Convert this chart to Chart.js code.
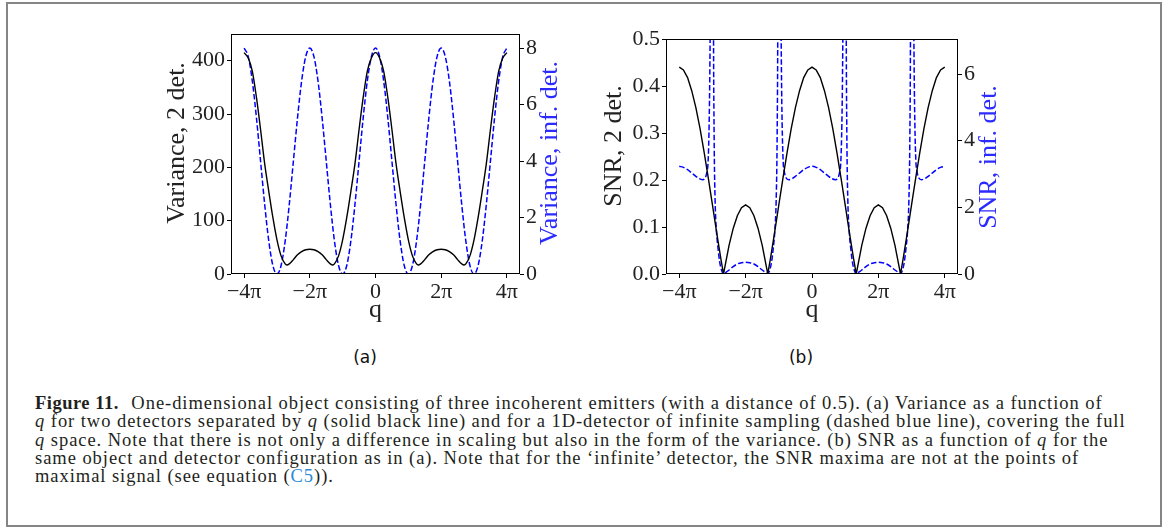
<!DOCTYPE html>
<html>
<head>
<meta charset="utf-8">
<script src="https://cdn.jsdelivr.net/npm/chart.js@4.4.1/dist/chart.umd.min.js"></script>
<style>
  html, body { margin: 0; padding: 0; background: #fff; }
  body { width: 1174px; height: 528px; position: relative; overflow: hidden; }
  #frame { position: absolute; left: 6px; top: 2px; width: 1156px; height: 525px;
           box-sizing: border-box; border: 2px solid #858585; }
  .panel { position: absolute; top: 14px; width: 440px; height: 320px; }
  #panelA { left: 130px; }
  #panelB { left: 580px; }
  .sub { position: absolute; transform: translate(-50%, -50%);
         font-family: "DejaVu Sans", sans-serif; font-size: 17px; color: #111; }
  #caption { position: absolute; left: 35px; top: 394px; white-space: nowrap;
             font-family: "Liberation Serif", "Times New Roman", serif;
             font-size: 18.5px; line-height: 18.3px; letter-spacing: 0.95px; color: #231f20; }
  #caption b { margin-right: 7px; letter-spacing: 0.5px; }
  #caption .ref { color: #2a8ad4; }
</style>
</head>
<body>
<div id="frame"></div>
<div class="panel" id="panelA"><canvas id="chartA" width="440" height="320"></canvas></div>
<div class="panel" id="panelB"><canvas id="chartB" width="440" height="320"></canvas></div>
<div class="sub" style="left:365px; top:357px;">(a)</div>
<div class="sub" style="left:801px; top:357px;">(b)</div>
<div id="caption">
<b>Figure 11.</b> One-dimensional object consisting of three incoherent emitters (with a distance of 0.5). (a) Variance as a function of<br>
<i>q</i> for two detectors separated by <i>q</i> (solid black line) and for a 1D-detector of infinite sampling (dashed blue line), covering the full<br>
<i>q</i> space. Note that there is not only a difference in scaling but also in the form of the variance. (b) SNR as a function of <i>q</i> for the<br>
same object and detector configuration as in (a). Note that for the ‘infinite’ detector, the SNR maxima are not at the points of<br>
maximal signal (see equation (<span class="ref">C5</span>)).
</div>
<script>
Chart.defaults.font.family = '"Liberation Serif", "DejaVu Serif", serif';
Chart.defaults.color = '#222';

// q positions are in units of pi
const qTicks = [-4, -2, 0, 2, 4];
const qTickLabels = ['−4π', '−2π', '0', '2π', '4π'];

// (a) variance, two detectors (left axis)
const varTwoQ = [-4, -3.875, -3.75, -3.625, -3.5, -3.375, -3.25, -3.125, -3, -2.875, -2.75, -2.7, -2.625, -2.5, -2.375, -2.25, -2.125, -2,
  -1.875, -1.75, -1.625, -1.5, -1.375, -1.3, -1.25, -1.125, -1, -0.875, -0.75, -0.625, -0.5, -0.375, -0.25, -0.125, 0,
  0.125, 0.25, 0.375, 0.5, 0.625, 0.75, 0.875, 1, 1.125, 1.25, 1.3, 1.375, 1.5, 1.625, 1.75, 1.875, 2,
  2.125, 2.25, 2.375, 2.5, 2.625, 2.7, 2.75, 2.875, 3, 3.125, 3.25, 3.375, 3.5, 3.625, 3.75, 3.875, 4];
const varTwoVal = [415, 405, 380, 331, 271, 207, 155, 106, 64, 34, 19, 17, 19, 27, 36, 42, 45.5, 46.5,
  45.5, 42, 36, 27, 19, 17, 19, 34, 64, 106, 155, 207, 271, 331, 380, 405, 415,
  405, 380, 331, 271, 207, 155, 106, 64, 34, 19, 17, 19, 27, 36, 42, 45.5, 46.5,
  45.5, 42, 36, 27, 19, 17, 19, 34, 64, 106, 155, 207, 271, 331, 380, 405, 415];

// (a) variance, infinite detector (right axis)
const varInfQ = [-4, -3.875, -3.75, -3.625, -3.5, -3.375, -3.25, -3.125, -3, -2.875, -2.75, -2.625, -2.5, -2.375, -2.25, -2.125,
  -2, -1.875, -1.75, -1.625, -1.5, -1.375, -1.25, -1.125, -1, -0.875, -0.75, -0.625, -0.5, -0.375, -0.25, -0.125,
  0, 0.125, 0.25, 0.375, 0.5, 0.625, 0.75, 0.875, 1, 1.125, 1.25, 1.375, 1.5, 1.625, 1.75, 1.875,
  2, 2.125, 2.25, 2.375, 2.5, 2.625, 2.75, 2.875, 3, 3.125, 3.25, 3.375, 3.5, 3.625, 3.75, 3.875, 4];
const varInfVal = [8, 7.70, 6.83, 5.53, 4.00, 2.47, 1.17, 0.30, 0, 0.30, 1.17, 2.47, 4.00, 5.53, 6.83, 7.70,
  8, 7.70, 6.83, 5.53, 4.00, 2.47, 1.17, 0.30, 0, 0.30, 1.17, 2.47, 4.00, 5.53, 6.83, 7.70,
  8, 7.70, 6.83, 5.53, 4.00, 2.47, 1.17, 0.30, 0, 0.30, 1.17, 2.47, 4.00, 5.53, 6.83, 7.70,
  8, 7.70, 6.83, 5.53, 4.00, 2.47, 1.17, 0.30, 0, 0.30, 1.17, 2.47, 4.00, 5.53, 6.83, 7.70, 8];

// (b) SNR, two detectors (left axis)
const snrTwoQ = [-4, -3.875, -3.75, -3.625, -3.5, -3.375, -3.25, -3.125, -3, -2.875, -2.75, -2.667, -2.5, -2.375, -2.25, -2.125, -2,
  -1.875, -1.75, -1.625, -1.5, -1.333, -1.25, -1.125, -1, -0.875, -0.75, -0.625, -0.5, -0.375, -0.25, -0.125, 0,
  0.125, 0.25, 0.375, 0.5, 0.625, 0.75, 0.875, 1, 1.125, 1.25, 1.333, 1.5, 1.625, 1.75, 1.875, 2,
  2.125, 2.25, 2.375, 2.5, 2.667, 2.75, 2.875, 3, 3.125, 3.25, 3.375, 3.5, 3.625, 3.75, 3.875, 4];
const snrTwoVal = [0.440, 0.434, 0.418, 0.390, 0.354, 0.310, 0.259, 0.204, 0.147, 0.089, 0.034, 0, 0.061, 0.097, 0.124, 0.141, 0.147,
  0.141, 0.124, 0.097, 0.061, 0, 0.034, 0.089, 0.147, 0.204, 0.259, 0.310, 0.354, 0.390, 0.418, 0.434, 0.440,
  0.434, 0.418, 0.390, 0.354, 0.310, 0.259, 0.204, 0.147, 0.089, 0.034, 0, 0.061, 0.097, 0.124, 0.141, 0.147,
  0.141, 0.124, 0.097, 0.061, 0, 0.034, 0.089, 0.147, 0.204, 0.259, 0.310, 0.354, 0.390, 0.418, 0.434, 0.440];

// (b) SNR, infinite detector (right axis) - blows up near odd multiples of pi
const snrInfQ = [-4, -3.875, -3.75, -3.625, -3.5, -3.4, -3.3, -3.22, -3.17, -3.13, -3.1, -3.08, -3.05, -3.01,
  -2.99, -2.97, -2.95, -2.92, -2.88, -2.83, -2.78, -2.72, -2.667, -2.625, -2.5, -2.375, -2.25, -2.125, -2,
  -1.875, -1.75, -1.625, -1.5, -1.375, -1.333, -1.28, -1.22, -1.17, -1.12, -1.08, -1.05, -1.03, -1.01,
  -0.99, -0.95, -0.92, -0.9, -0.87, -0.83, -0.78, -0.7, -0.6, -0.5, -0.375, -0.25, -0.125, 0,
  0.125, 0.25, 0.375, 0.5, 0.6, 0.7, 0.78, 0.83, 0.87, 0.9, 0.92, 0.95, 0.99,
  1.01, 1.03, 1.05, 1.08, 1.12, 1.17, 1.22, 1.28, 1.333, 1.375, 1.5, 1.625, 1.75, 1.875, 2,
  2.125, 2.25, 2.375, 2.5, 2.625, 2.667, 2.72, 2.78, 2.83, 2.88, 2.92, 2.95, 2.97, 2.99,
  3.01, 3.05, 3.08, 3.1, 3.13, 3.17, 3.22, 3.3, 3.4, 3.5, 3.625, 3.75, 3.875, 4];
const snrInfVal = [3.23, 3.20, 3.13, 3.03, 2.93, 2.86, 2.83, 2.88, 3.05, 3.4, 4.5, 6, 10, 20,
  20, 8, 4.2, 2.2, 1.3, 0.75, 0.35, 0.1, 0, 0.03, 0.12, 0.22, 0.30, 0.34, 0.35,
  0.34, 0.30, 0.22, 0.12, 0.03, 0, 0.1, 0.35, 0.75, 1.3, 2.2, 4.2, 8, 20,
  20, 10, 6, 4.5, 3.4, 3.05, 2.88, 2.83, 2.86, 2.93, 3.03, 3.13, 3.20, 3.23,
  3.20, 3.13, 3.03, 2.93, 2.86, 2.83, 2.88, 3.05, 3.4, 4.5, 6, 10, 20,
  20, 8, 4.2, 2.2, 1.3, 0.75, 0.35, 0.1, 0, 0.03, 0.12, 0.22, 0.30, 0.34, 0.35,
  0.34, 0.30, 0.22, 0.12, 0.03, 0, 0.1, 0.35, 0.75, 1.3, 2.2, 4.2, 8, 20,
  20, 10, 6, 4.5, 3.4, 3.05, 2.88, 2.83, 2.86, 2.93, 3.03, 3.13, 3.20, 3.23];

const varTwoTicks = [0, 100, 200, 300, 400];
const varInfTicks = [0, 2, 4, 6, 8];
const snrTwoTicks = [0, 0.1, 0.2, 0.3, 0.4, 0.5];
const snrInfTicks = [0, 2, 4, 6];

function pairs(qs, vs) {
    return qs.map((q, i) => ({ x: q, y: vs[i] }));
}

// draws the four spines like matplotlib
const frameBox = {
    id: 'frameBox',
    afterDatasetsDraw(chart) {
        const { ctx, chartArea: a } = chart;
        ctx.save();
        ctx.strokeStyle = '#000';
        ctx.lineWidth = 1;
        const l = Math.round(a.left) + 0.5, t = Math.round(a.top) + 0.5;
        const r = Math.round(a.right) - 0.5, b = Math.round(a.bottom) - 0.5;
        ctx.strokeRect(l, t, r - l, b - t);
        ctx.restore();
    }
};

// y axis titles, both read bottom to top
const sideTitles = {
    id: 'sideTitles',
    afterDraw(chart, args, opts) {
        const ctx = chart.ctx;
        opts.items.forEach(t => {
            ctx.save();
            ctx.translate(t.x, t.y);
            ctx.rotate(-Math.PI / 2);
            ctx.font = '26px "Liberation Serif", serif';
            ctx.fillStyle = t.color;
            ctx.textAlign = 'center';
            ctx.textBaseline = 'middle';
            ctx.fillText(t.text, 0, 0);
            ctx.restore();
        });
    }
};

const tickGrid = {
    display: true,
    drawOnChartArea: false,
    drawTicks: true,
    tickLength: 4,
    tickColor: '#000',
    tickWidth: 1
};

function yAxis(position, max, ticks, width, fmt) {
    return {
        type: 'linear',
        position: position,
        min: 0,
        max: max,
        afterBuildTicks: s => { s.ticks = ticks.map(v => ({ value: v })); },
        afterFit: s => { s.width = width; },
        grid: tickGrid,
        border: { display: false },
        ticks: { font: { size: 22 }, color: '#222', padding: 2, callback: fmt }
    };
}

function makePanel(id, cfg) {
    const ctx = document.getElementById(id).getContext('2d');
    return new Chart(ctx, {
        type: 'line',
        data: {
            datasets: [
                {
                    data: pairs(cfg.blackQ, cfg.blackVal),
                    yAxisID: 'y',
                    borderColor: '#000',
                    borderWidth: 1.4,
                    pointRadius: 0,
                    tension: cfg.blackSmooth ? 0.4 : 0,
                    cubicInterpolationMode: cfg.blackSmooth ? 'monotone' : 'default'
                },
                {
                    data: pairs(cfg.blueQ, cfg.blueVal),
                    yAxisID: 'y2',
                    borderColor: '#0000ff',
                    borderWidth: 1.5,
                    borderDash: [5.5, 2.4],
                    pointRadius: 0,
                    tension: 0.4,
                    cubicInterpolationMode: 'monotone'
                }
            ]
        },
        options: {
            responsive: false,
            animation: false,
            devicePixelRatio: 1,
            parsing: false,
            layout: { padding: { top: cfg.padTop, left: 0, right: 0, bottom: 0 } },
            scales: {
                x: {
                    type: 'linear',
                    position: 'bottom',
                    min: -4.4,
                    max: 4.4,
                    afterBuildTicks: s => { s.ticks = qTicks.map(v => ({ value: v })); },
                    afterFit: s => { s.height = 60; },
                    grid: tickGrid,
                    border: { display: false },
                    ticks: {
                        font: { size: 22 },
                        color: '#222',
                        padding: 1,
                        maxRotation: 0,
                        autoSkip: false,
                        callback: v => qTickLabels[qTicks.indexOf(v)]
                    },
                    title: {
                        display: true,
                        text: 'q',
                        font: { size: 26 },
                        color: '#222',
                        padding: { top: 0, bottom: 8 }
                    }
                },
                y: yAxis('left', cfg.leftMax, cfg.leftTicks, cfg.leftWidth, cfg.leftFmt),
                y2: yAxis('right', cfg.rightMax, cfg.rightTicks, cfg.rightWidth, v => String(v))
            },
            plugins: {
                legend: { display: false },
                tooltip: { enabled: false },
                sideTitles: { items: cfg.titles }
            }
        },
        plugins: [frameBox, sideTitles]
    });
}

makePanel('chartA', {
    blackQ: varTwoQ, blackVal: varTwoVal, blackSmooth: true,
    blueQ: varInfQ, blueVal: varInfVal,
    padTop: 20,
    leftMax: 450, leftTicks: varTwoTicks, leftWidth: 101, leftFmt: v => String(v),
    rightMax: 8.5, rightTicks: varInfTicks, rightWidth: 50,
    titles: [
        { text: 'Variance, 2 det.', x: 47, y: 129, color: '#222' },
        { text: 'Variance, inf. det.', x: 420, y: 139, color: '#2b2bff' }
    ]
});

makePanel('chartB', {
    blackQ: snrTwoQ, blackVal: snrTwoVal, blackSmooth: false,
    blueQ: snrInfQ, blueVal: snrInfVal,
    padTop: 25,
    leftMax: 0.5, leftTicks: snrTwoTicks, leftWidth: 86, leftFmt: v => v.toFixed(1),
    rightMax: 7.05, rightTicks: snrInfTicks, rightWidth: 62,
    titles: [
        { text: 'SNR, 2 det.', x: 34, y: 132, color: '#222' },
        { text: 'SNR, inf. det.', x: 409, y: 143, color: '#2b2bff' }
    ]
});
</script>
</body>
</html>
